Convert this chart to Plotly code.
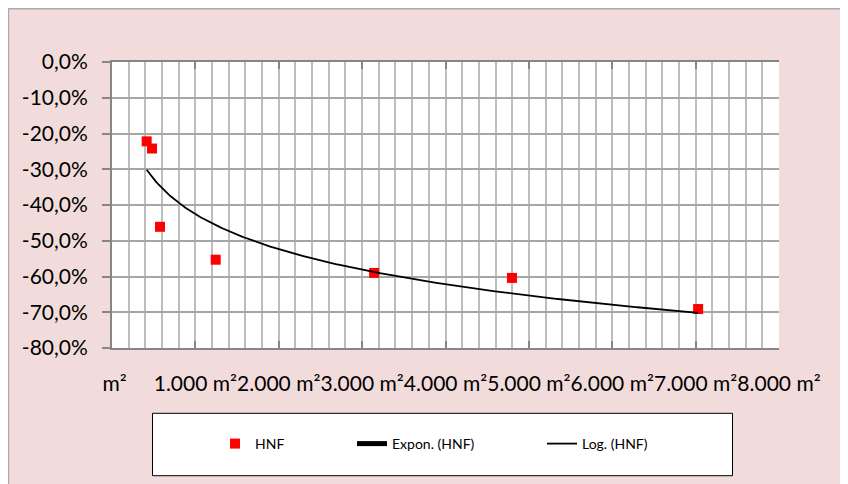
import numpy as np
import plotly.graph_objects as go

# ---- data ----
area_m2 = [416, 480, 576, 1244, 3144, 4797, 7030]
hnf = [-0.222, -0.242, -0.461, -0.553, -0.590, -0.604, -0.691]

x_tickvals = [0, 1000, 2000, 3000, 4000, 5000, 6000, 7000, 8000]
x_ticktext = [" m²", "1.000 m²", "2.000 m²", "3.000 m²", "4.000 m²",
              "5.000 m²", "6.000 m²", "7.000 m²", "8.000 m²"]
y_tickvals = [0, -0.1, -0.2, -0.3, -0.4, -0.5, -0.6, -0.7, -0.8]
y_ticktext = ["0,0%", "-10,0%", "-20,0%", "-30,0%", "-40,0%",
              "-50,0%", "-60,0%", "-70,0%", "-80,0%"]

# logarithmic trendline (least squares on ln x), as Excel does
xa = np.array(area_m2, dtype=float)
ya = np.array(hnf, dtype=float)
b, a = np.polyfit(np.log(xa), ya, 1)
x_fit = np.linspace(xa.min(), xa.max(), 300)
y_fit = a + b * np.log(x_fit)

FONT = "Lato"
OFF = 8  # page body margin
W, H = 848 - OFF, 484 - OFF
# plot area in page pixels: x 112..779, y 62..348
L, T = 112 - OFF, 62 - OFF
R = W - (779 - OFF)
B = H - (348 - OFF)
pw, ph = W - L - R, H - T - B


def px_x(px):
    return (px - OFF - L) / pw


def px_y(py):
    return (H - B - (py - OFF)) / ph


fig = go.Figure()
fig.add_trace(go.Scatter(
    x=area_m2, y=hnf, mode="markers", name="HNF",
    marker=dict(symbol="square", size=10, color="#FF0000", line=dict(width=0)),
    legend="legend",
))
fig.add_trace(go.Scatter(
    x=[None], y=[None], mode="lines", name="Expon. (HNF)",
    line=dict(color="black", width=5), legend="legend2",
))
fig.add_trace(go.Scatter(
    x=x_fit, y=y_fit, mode="lines", name="Log. (HNF)",
    line=dict(color="black", width=1.8), legend="legend3",
))

leg_common = dict(bgcolor="rgba(0,0,0,0)", borderwidth=0,
                  font=dict(family=FONT, size=14, color="black"),
                  yanchor="middle", xanchor="left", orientation="h")

fig.update_layout(
    width=W, height=H,
    margin=dict(l=L, r=R, t=T, b=B),
    paper_bgcolor="#F2DCDB",
    plot_bgcolor="white",
    font=dict(family=FONT, size=21, color="black"),
    showlegend=True,
    legend=dict(x=px_x(215), y=px_y(444), **leg_common),
    legend2=dict(x=px_x(352), y=px_y(444), **leg_common),
    legend3=dict(x=px_x(542), y=px_y(444), **leg_common),
    xaxis=dict(
        range=[0, 8000], tickvals=x_tickvals, ticktext=x_ticktext,
        tickangle=0, ticks="inside", ticklen=7, tickcolor="#868686",
        tickwidth=2, showline=True, linecolor="#868686", linewidth=2,
        mirror="ticks", showgrid=True, gridcolor="#BDBDBD", gridwidth=2,
        minor=dict(dtick=200, showgrid=True, gridcolor="#BDBDBD", gridwidth=2),
        zeroline=False, tickfont=dict(family=FONT, size=21),
        ticklabelstandoff=16,
    ),
    yaxis=dict(
        range=[-0.8, 0], tickvals=y_tickvals, ticktext=y_ticktext,
        ticks="outside", ticklen=8, tickcolor="#868686", tickwidth=2,
        showline=True, linecolor="#868686", linewidth=2,
        showgrid=True, gridcolor="#A6A6A6", gridwidth=2, zeroline=False,
        tickfont=dict(family=FONT, size=21),
        ticklabelstandoff=10,
    ),
    shapes=[
        dict(type="rect", xref="paper", yref="paper",
             x0=px_x(8.5), x1=px_x(844), y0=px_y(495), y1=px_y(8.8),
             line=dict(color="#AAAAAA", width=1.5), fillcolor="rgba(0,0,0,0)",
             layer="below"),
        dict(type="rect", xref="paper", yref="paper",
             x0=px_x(152.5), x1=px_x(732.5), y0=px_y(475.7), y1=px_y(413.3),
             line=dict(color="black", width=1), fillcolor="white",
             layer="below"),
    ],
)

fig.write_html("out.html")
